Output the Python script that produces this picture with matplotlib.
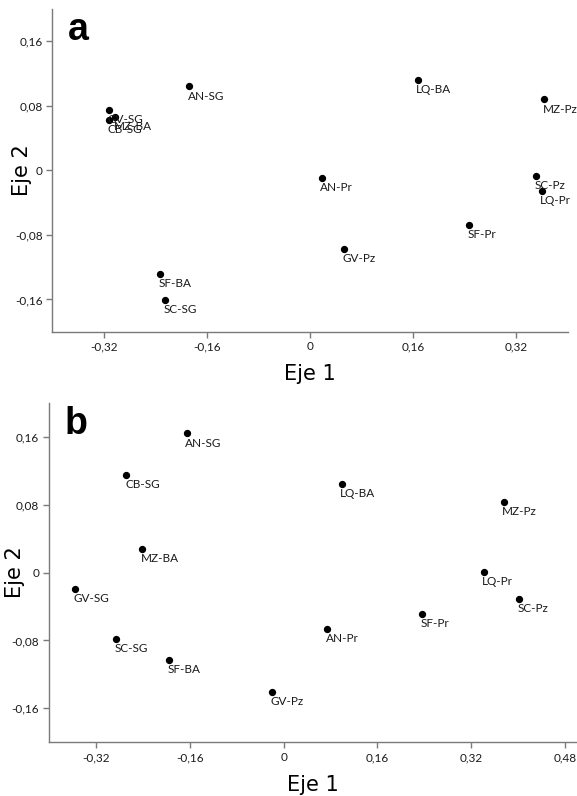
import matplotlib
matplotlib.use("Agg")
import matplotlib.pyplot as plt
from matplotlib.ticker import FuncFormatter

# panel a
names_a = ["AN-SG", "GV-SG", "MZ-BA", "CB-SG", "SF-BA", "SC-SG", "LQ-BA", "MZ-Pz",
           "AN-Pr", "SC-Pz", "LQ-Pr", "SF-Pr", "GV-Pz"]
x_a = [-0.188, -0.312, -0.302, -0.312, -0.233, -0.225, 0.167, 0.363,
       0.018, 0.351, 0.359, 0.247, 0.053]
y_a = [0.104, 0.075, 0.066, 0.062, -0.128, -0.161, 0.112, 0.088,
       -0.009, -0.007, -0.026, -0.068, -0.097]

# panel b
names_b = ["AN-SG", "CB-SG", "MZ-BA", "GV-SG", "LQ-BA", "MZ-Pz", "LQ-Pr", "SC-Pz",
           "SC-SG", "SF-BA", "GV-Pz", "AN-Pr", "SF-Pr"]
x_b = [-0.165, -0.268, -0.241, -0.355, 0.099, 0.375, 0.341, 0.402,
       -0.285, -0.195, -0.020, 0.074, 0.236]
y_b = [0.164, 0.115, 0.028, -0.019, 0.105, 0.083, 0.001, -0.031,
       -0.078, -0.103, -0.141, -0.066, -0.049]

ticks_y = [-0.16, -0.08, 0, 0.08, 0.16]
ticks_x_a = [-0.32, -0.16, 0, 0.16, 0.32]
ticks_x_b = [-0.32, -0.16, 0, 0.16, 0.32, 0.48]

LABEL_FONT = ["Lato", "DejaVu Sans"]
GREY = "#7a7a7a"


def comma_fmt(v, pos):
    if abs(v) < 1e-9:
        return "0"
    return f"{v:.2f}".replace(".", ",")


def decorate(ax, xticks, xlim):
    ax.spines["right"].set_visible(False)
    ax.spines["top"].set_visible(False)
    for s in ("left", "bottom"):
        ax.spines[s].set_color(GREY)
        ax.spines[s].set_linewidth(1.0)
    ax.set_xlim(*xlim)
    ax.set_ylim(-0.2, 0.2)
    ax.set_xticks(xticks)
    ax.set_yticks(ticks_y)
    ax.xaxis.set_major_formatter(FuncFormatter(comma_fmt))
    ax.yaxis.set_major_formatter(FuncFormatter(comma_fmt))
    ax.tick_params(axis="both", length=4, width=1, color=GREY, labelsize=8.5,
                   labelcolor="#1a1a1a", pad=3)
    for lab in ax.get_xticklabels() + ax.get_yticklabels():
        lab.set_family(LABEL_FONT)


def draw(ax, xs, ys, names):
    ax.scatter(xs, ys, s=18, color="black", zorder=3)
    for x, y, n in zip(xs, ys, names):
        ax.annotate(n, (x, y), xytext=(-1, -3), textcoords="offset points",
                    ha="left", va="top", fontsize=8.5, color="#1a1a1a",
                    family=LABEL_FONT)


fig = plt.figure(figsize=(5.77, 7.96), dpi=100)

ax1 = fig.add_axes([0.0906, 0.5833, 0.8937, 0.4054])
draw(ax1, x_a, y_a, names_a)
decorate(ax1, ticks_x_a, (-0.40, 0.40))
ax1.set_xlabel("Eje 1", fontsize=15)
ax1.xaxis.set_label_coords(0.5, -0.1)
ax1.set_ylabel("Eje 2", fontsize=15)
ax1.yaxis.set_label_coords(-0.04, 0.5)
ax1.text(0.03, 0.99, "a", transform=ax1.transAxes, fontsize=27,
         fontweight="bold", va="top", family="Liberation Sans")

ax2 = fig.add_axes([0.0849, 0.0675, 0.915, 0.4263])
draw(ax2, x_b, y_b, names_b)
decorate(ax2, ticks_x_b, (-0.40, 0.50))
ax2.set_xlabel("Eje 1", fontsize=15)
ax2.xaxis.set_label_coords(0.5, -0.095)
ax2.set_ylabel("Eje 2", fontsize=15)
ax2.yaxis.set_label_coords(-0.045, 0.5)
ax2.text(0.03, 0.99, "b", transform=ax2.transAxes, fontsize=27,
         fontweight="bold", va="top", family="Liberation Sans")

fig.savefig("out.png", dpi=100)
